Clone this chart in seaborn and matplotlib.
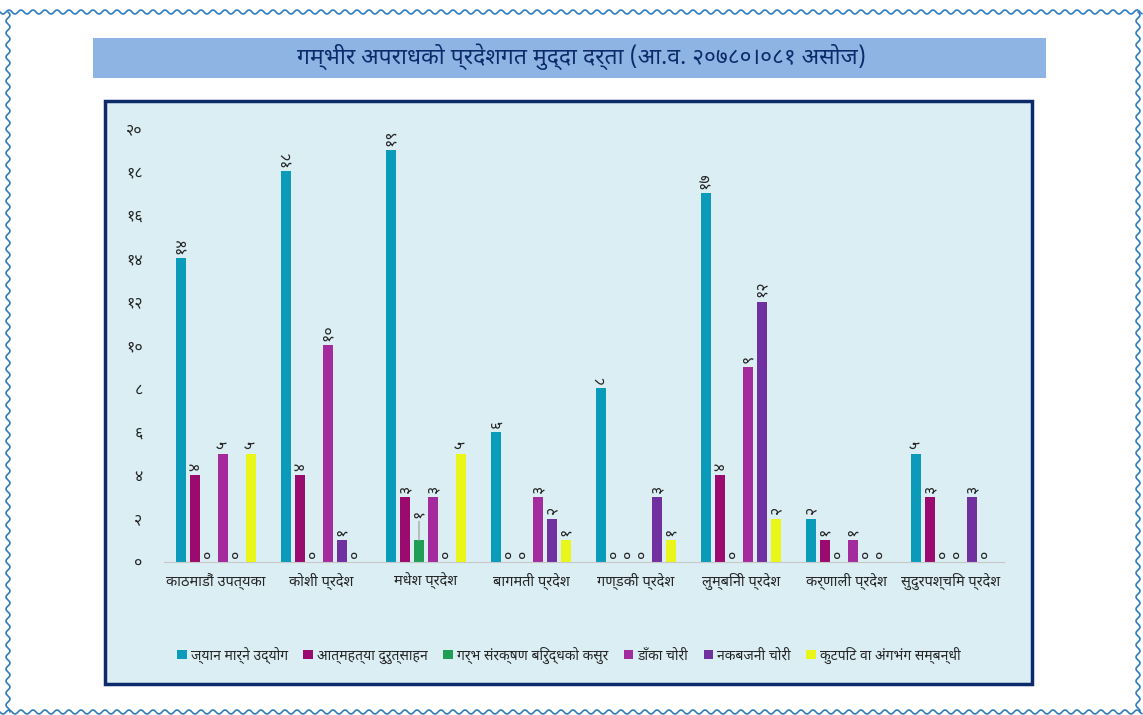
import numpy as np
import pandas as pd
import matplotlib
matplotlib.use("Agg")
import matplotlib.pyplot as plt
import seaborn as sns
from matplotlib import font_manager

regions = ["काठमाडौं उपत्यका", "कोशी प्रदेश", "मधेश प्रदेश", "बागमती प्रदेश",
           "गण्डकी प्रदेश", "लुम्बिनी प्रदेश", "कर्णाली प्रदेश", "सुदुरपश्चिम प्रदेश"]
series = ["ज्यान मार्ने उद्योग", "आत्महत्या दुरुत्साहन", "गर्भ संरक्षण बिरुद्धको कसुर",
          "डाँका चोरी", "नकबजनी चोरी", "कुटपिट वा अंगभंग सम्बन्धी"]
murder_attempt = [14, 18, 19, 6, 8, 17, 2, 5]
suicide_abet = [4, 4, 3, 0, 0, 4, 1, 3]
pregnancy = [0, 0, 1, 0, 0, 0, 0, 0]
robbery = [5, 10, 3, 3, 0, 9, 1, 0]
burglary = [0, 1, 0, 2, 3, 12, 0, 3]
assault = [5, 0, 5, 1, 1, 2, 0, 0]
colors = ["#0A9BBB", "#9B0A6E", "#1F9E55", "#A32B9E", "#7030A0", "#EAF51A"]
yticks = list(range(0, 21, 2))

title = "गम्भीर अपराधको प्रदेशगत मुद्दा दर्ता (आ.व. २०७८०।०८१ असोज)"

to_nep = str.maketrans("0123456789", "०१२३४५६७८९")


def nep(n):
    return str(n).translate(to_nep)


values = [murder_attempt, suicide_abet, pregnancy, robbery, burglary, assault]
rows = []
for s, vals in zip(series, values):
    for r, v in zip(regions, vals):
        rows.append({"region": r, "crime": s, "count": v})
df = pd.DataFrame(rows)

sns.set_style("white")
installed = {f.name for f in font_manager.fontManager.ttflist}
deva = [f for f in ["Noto Sans Devanagari", "Hind", "Mukta", "Ek Mukta", "FreeSans"]
        if f in installed]
plt.rcParams["font.family"] = deva[:1] + ["DejaVu Sans"]

navy = "#0D2A6B"
fig = plt.figure(figsize=(11.43, 7.15), dpi=100)
fig.patch.set_facecolor("white")

# chart box and title bar
fig.add_artist(plt.Rectangle((105 / 1143, 1 - 684 / 715), 927 / 1143, 583 / 715,
                             facecolor="#DAEEF3", edgecolor=navy, lw=2.5,
                             transform=fig.transFigure, zorder=-2))
fig.add_artist(plt.Rectangle((93 / 1143, 1 - 78 / 715), 953 / 1143, 40 / 715,
                             facecolor="#8EB4E3", edgecolor="none",
                             transform=fig.transFigure, zorder=-2))
fig.text(581 / 1143, 1 - 57 / 715, title, ha="center", va="center",
         fontsize=16.5, fontweight="bold", color=navy)

ax = fig.add_axes([163.5 / 1143, 153 / 715, 840 / 1143, 434 / 715])
ax.set_facecolor("none")
sns.barplot(data=df, x="region", y="count", hue="crime", palette=colors,
            saturation=1, width=0.8, gap=0.28, ax=ax, legend=True, edgecolor="none")

for i, cont in enumerate(ax.containers):
    if series[i] == series[2]:
        # green series: label lifted with a thin leader line on non-zero bars
        for bar, v in zip(cont.patches, cont.datavalues):
            x = bar.get_x() + bar.get_width() / 2
            if v > 0:
                ax.annotate(nep(int(v)), xy=(x, v), xytext=(0, 16), textcoords="offset points",
                            rotation=90, ha="center", va="bottom", fontsize=11.5,
                            arrowprops=dict(arrowstyle="-", color="#A0A0A0", lw=0.9,
                                            shrinkA=0, shrinkB=0))
            else:
                ax.annotate(nep(int(v)), xy=(x, v), xytext=(0, 3), textcoords="offset points",
                            rotation=90, ha="center", va="bottom", fontsize=11.5)
        continue
    labels = [nep(int(v)) for v in cont.datavalues]
    ax.bar_label(cont, labels=labels, rotation=90, padding=3, fontsize=11.5)

ax.set_ylim(0, 20)
ax.set_xlim(-0.5, 7.5)
ax.set_yticks(yticks)
ax.set_yticklabels([nep(t) for t in yticks], fontsize=11.5)
ax.tick_params(axis="x", labelsize=10.5, length=0, pad=8)
ax.tick_params(axis="y", length=0, pad=15)
ax.set_xlabel("")
ax.set_ylabel("")
for side in ["top", "right", "left"]:
    ax.spines[side].set_visible(False)
ax.spines["bottom"].set_color("#C8C8C8")

ax.legend(loc="center", bbox_to_anchor=(569 / 1143, 1 - 655 / 715), bbox_transform=fig.transFigure,
          ncol=6, frameon=False, fontsize=10, handlelength=0.7, handleheight=0.7,
          handletextpad=0.3, columnspacing=1.1)

# wavy page border
t = np.arange(0, 1143, 1.0)
w = 2 * np.sin(t * 2 * np.pi / 12)
for y0 in [12, 712]:
    fig.add_artist(plt.Line2D(t / 1143, 1 - (y0 + w) / 715, color="#2E7BC0", lw=1.2,
                              transform=fig.transFigure))
u = np.arange(12, 713, 1.0)
wv = 2 * np.sin(u * 2 * np.pi / 12)
for x0 in [8, 1138]:
    fig.add_artist(plt.Line2D((x0 + wv) / 1143, 1 - u / 715, color="#2E7BC0", lw=1.2,
                              transform=fig.transFigure))

fig.savefig("out.png", dpi=100)
